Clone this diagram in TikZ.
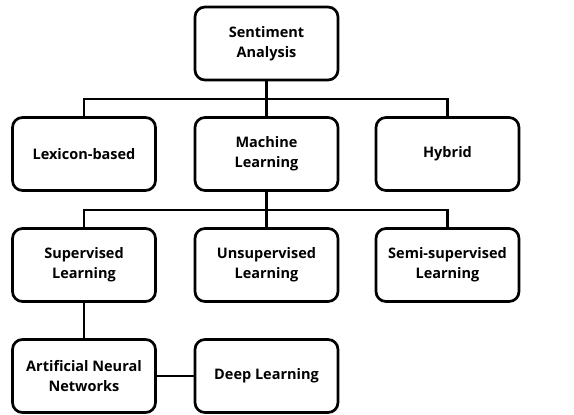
\documentclass[tikz,border=0pt]{standalone}
\usepackage{fontspec}
\setmainfont{Open Sans}
\begin{document}
\begin{tikzpicture}[x=1pt,y=-1pt,
  box/.style={draw=black,line width=2.7pt,rounded corners=10pt,minimum width=143pt,minimum height=73pt,
    align=center,font=\bfseries\fontsize{14.5}{20}\selectfont,inner sep=0pt},
  link/.style={line width=2.9pt}]
\useasboundingbox (0,0) rectangle (574,415);
\node[box] (sa) at (266.5,43.5) {Sentiment\\Analysis};
\node[box] (lex) at (84,154) {Lexicon-based};
\node[box] (ml) at (266.5,154) {Machine\\Learning};
\node[box] (hyb) at (447.5,154) {Hybrid};
\node[box] (sup) at (84,265) {Supervised\\Learning};
\node[box] (uns) at (266.5,265) {Unsupervised\\Learning};
\node[box] (semi) at (447.5,265) {Semi-supervised\\Learning};
\node[box] (ann) at (84,376) {Artificial Neural\\Networks};
\node[box] (dl) at (266.5,376) {Deep Learning};
\coordinate (j1) at (266.5,99);
\coordinate (j2) at (266.5,210);
\draw[link] (sa.south) -- (ml.north);
\draw[link] (lex.north) |- (j1) -| (hyb.north);
\draw[link] (ml.south) -- (uns.north);
\draw[link] (sup.north) |- (j2) -| (semi.north);
\draw[link] (sup.south) -- (ann.north);
\draw[link] (ann.east) -- (dl.west);
\end{tikzpicture}
\end{document}
